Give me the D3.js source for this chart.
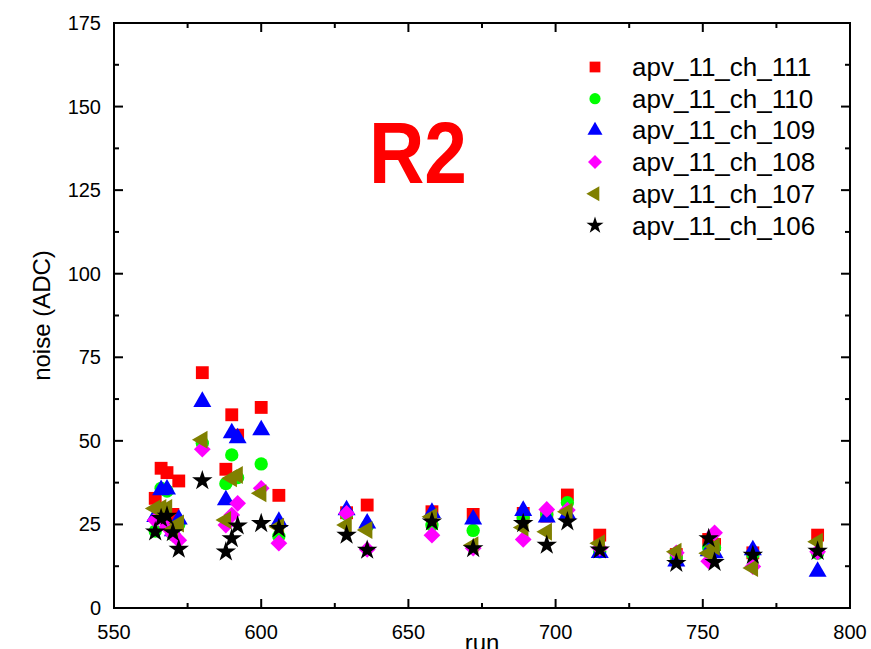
<!DOCTYPE html>
<html>
<head>
<meta charset="utf-8">
<script src="https://cdn.jsdelivr.net/npm/d3@7"></script>
<style>
  body { margin: 0; background: white; }
  text { font-family: "Liberation Sans", Arial, sans-serif; }
</style>
</head>
<body>
<div id="canvas"></div>
<script>
"use strict"

/* Data: run numbers and noise (ADC) per channel */
let runs = [564, 566, 568, 570, 572, 580, 588, 590, 592, 600, 606, 629, 636, 658, 672, 689, 697, 704, 715, 741, 752, 754, 767, 789];

let ch111 = [32.8, 41.8, 40.5, 28.0, 38.0, 70.4, 41.5, 57.8, 51.7, 60.0, 33.7, 28.5, 30.8, 28.8, 28.0, 28.3, 27.5, 33.8, 21.8, 16.0, 20.5, 19.0, 16.5, 21.8];
let ch110 = [23.0, 35.8, 35.0, 22.0, 25.0, 49.3, 37.2, 45.8, 39.0, 43.1, 21.5, 28.0, 24.5, 24.8, 23.2, 27.0, 28.0, 31.5, 16.8, 15.0, 18.0, 18.0, 16.0, 16.4];
let ch109 = [27.3, 35.3, 35.5, 23.0, 26.5, 61.7, 32.3, 52.3, 50.8, 53.2, 25.8, 29.3, 25.3, 28.5, 26.5, 29.1, 27.1, 28.0, 16.5, 14.0, 17.0, 16.4, 17.3, 10.9];
let ch108 = [26.3, 27.0, 24.3, 22.0, 20.3, 47.5, 24.8, 27.8, 31.3, 35.8, 19.4, 28.3, 17.5, 21.8, 17.9, 20.5, 29.5, 29.3, 17.9, 16.5, 14.0, 22.5, 12.4, 16.8];
let ch107 = [29.8, 29.9, 29.9, 23.5, 25.3, 50.3, 26.3, 38.8, 39.8, 34.3, 24.3, 24.8, 23.3, 27.3, 18.8, 24.1, 22.8, 28.8, 19.4, 16.8, 16.4, 18.3, 12.0, 19.8];
let ch106 = [22.8, 26.8, 27.5, 22.6, 17.6, 38.1, 16.8, 20.8, 24.6, 25.3, 23.8, 21.8, 17.3, 25.8, 17.8, 25.3, 18.8, 25.8, 17.4, 13.4, 20.8, 13.7, 15.8, 17.0];

let seriesNames = ["apv_11_ch_111", "apv_11_ch_110", "apv_11_ch_109", "apv_11_ch_108", "apv_11_ch_107", "apv_11_ch_106"];
let seriesValues = [ch111, ch110, ch109, ch108, ch107, ch106];

let xTicks = [550, 600, 650, 700, 750, 800];
let yTicks = [0, 25, 50, 75, 100, 125, 150, 175];

/* Drawing configuration */
let svgWidth = 871;
let svgHeight = 649;
let plotLeft = 114, plotRight = 850, plotTop = 23, plotBottom = 608;

/* marker style per series: symbol, colour, area, rotation */
let markers = [
  { type: d3.symbolSquare,   color: "#ff0000", size: 165, rot: 0 },
  { type: d3.symbolCircle,   color: "#00ff00", size: 140, rot: 0 },
  { type: d3.symbolTriangle, color: "#0000ff", size: 140, rot: 0 },
  { type: d3.symbolSquare,   color: "#ff00ff", size: 140, rot: 45 },
  { type: d3.symbolTriangle, color: "#808000", size: 140, rot: -90 },
  { type: d3.symbolStar,     color: "#000000", size: 130, rot: 0 }
];

let svg = d3.select("#canvas")
    .append("svg")
    .attr("width", svgWidth)
    .attr("height", svgHeight);

let xScale = d3.scaleLinear().domain([550, 800]).range([plotLeft, plotRight]);
let yScale = d3.scaleLinear().domain([0, 175]).range([plotBottom, plotTop]);

/* Ticks: majors and minors point into the plot, on all four sides */
let xMinor = d3.range(575, 800, 50);
let yMinor = d3.range(12.5, 175, 25);

function tickLines(vals, len, horizontal) {
  vals.forEach(function (v) {
    if (horizontal) {
      let x = xScale(v);
      svg.append("line").attr("x1", x).attr("x2", x).attr("y1", plotBottom).attr("y2", plotBottom - len)
        .attr("stroke", "black").attr("stroke-width", 2);
      svg.append("line").attr("x1", x).attr("x2", x).attr("y1", plotTop).attr("y2", plotTop + len)
        .attr("stroke", "black").attr("stroke-width", 2);
    } else {
      let y = yScale(v);
      svg.append("line").attr("x1", plotLeft).attr("x2", plotLeft + len).attr("y1", y).attr("y2", y)
        .attr("stroke", "black").attr("stroke-width", 2);
      svg.append("line").attr("x1", plotRight).attr("x2", plotRight - len).attr("y1", y).attr("y2", y)
        .attr("stroke", "black").attr("stroke-width", 2);
    }
  });
}
tickLines(xTicks.slice(1, -1), 9, true);
tickLines(xMinor, 5, true);
tickLines(yTicks.slice(1, -1), 9, false);
tickLines(yMinor, 5, false);

/* Frame */
svg.append("rect")
    .attr("x", plotLeft).attr("y", plotTop)
    .attr("width", plotRight - plotLeft).attr("height", plotBottom - plotTop)
    .attr("fill", "none").attr("stroke", "black").attr("stroke-width", 2);

/* Tick labels */
svg.selectAll(".xlab").data(xTicks).join("text")
    .attr("x", function (d) { return xScale(d); })
    .attr("y", plotBottom + 31)
    .attr("text-anchor", "middle")
    .attr("font-size", 20)
    .text(function (d) { return d; });

svg.selectAll(".ylab").data(yTicks).join("text")
    .attr("x", plotLeft - 13)
    .attr("y", function (d) { return yScale(d) + 7; })
    .attr("text-anchor", "end")
    .attr("font-size", 20)
    .text(function (d) { return d; });

/* Axis titles ("run" sits at the bottom edge, partly cut as in the original) */
svg.append("text")
    .attr("x", xScale(675))
    .attr("y", 651)
    .attr("text-anchor", "middle")
    .attr("font-size", 24)
    .text("run");

svg.append("text")
    .attr("transform", "translate(50," + ((plotTop + plotBottom) / 2) + ") rotate(-90)")
    .attr("text-anchor", "middle")
    .attr("font-size", 24)
    .text("noise (ADC)");

/* Big R2 label */
svg.append("text")
    .attr("x", 369)
    .attr("y", 183)
    .attr("font-size", 88)
    .attr("font-weight", "bold")
    .attr("fill", "#ff0000")
    .attr("textLength", 98)
    .attr("lengthAdjust", "spacingAndGlyphs")
    .text("R2");

/* Points, series drawn in order so stars end on top */
seriesValues.forEach(function (vals, i) {
  let m = markers[i];
  let sym = d3.symbol().type(m.type).size(m.size);
  svg.append("g").selectAll("path")
    .data(vals)
    .join("path")
    .attr("d", sym)
    .attr("fill", m.color)
    .attr("transform", function (d, j) {
      return "translate(" + xScale(runs[j]) + "," + yScale(d) + ") rotate(" + m.rot + ")";
    });
});

/* Legend */
let legendX = 595, legendY = 67, legendStep = 31.7;
seriesNames.forEach(function (name, i) {
  let m = markers[i];
  let y = legendY + i * legendStep;
  svg.append("path")
    .attr("d", d3.symbol().type(m.type).size(m.size * 0.7))
    .attr("fill", m.color)
    .attr("transform", "translate(" + legendX + "," + y + ") rotate(" + m.rot + ")");
  svg.append("text")
    .attr("x", 632)
    .attr("y", y + 9)
    .attr("font-size", 26)
    .text(name);
});
</script>
</body>
</html>
